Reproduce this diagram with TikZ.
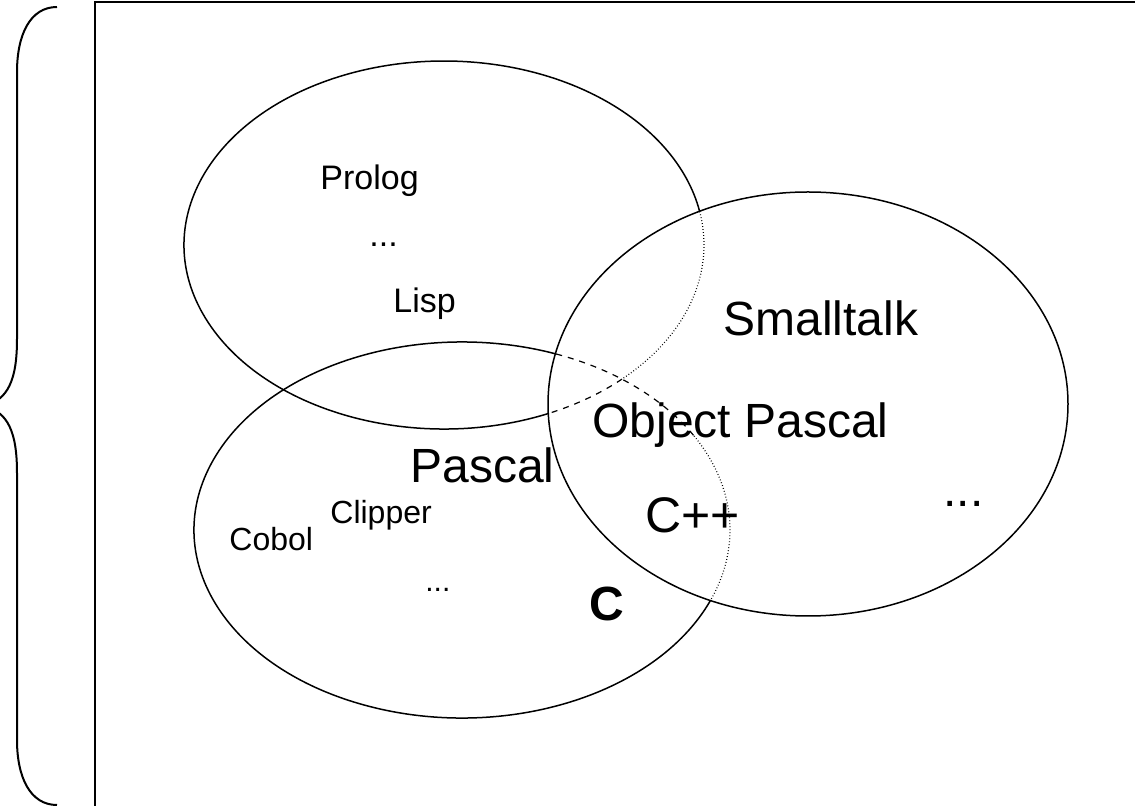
\documentclass[tikz,border=0pt]{standalone}
\usepackage{fontspec}
\setmainfont{Liberation Sans}
\begin{document}
\begin{tikzpicture}[x=0.5pt, y=-0.5pt,
        venn/.style={line width=0.75pt},
        hiddendash/.style={line width=0.6pt, dash pattern=on 3pt off 3pt},
        hiddendot/.style={line width=0.6pt, dash pattern=on 0.4pt off 1.1pt},
        lang/.style={anchor=base west, inner sep=0pt, font=\fontsize{#1}{#1}\selectfont}]
            \useasboundingbox (0,0) rectangle (1135,806);
            \clip (0,0) rectangle (1135,806);
            \coordinate (logic) at (444,245);
            \coordinate (proc)  at (462,530);
            \coordinate (oop)   at (808,404);
            \draw[line width=1pt] (95,2) rectangle (1200,900);
            \draw[line width=1pt] (57,7) .. controls (30,7) and (17,35) .. (17,72) -- (17,339)
                .. controls (17,380) and (8,400) .. (-16,406) .. controls (8,412) and (17,432) .. (17,473)
                -- (17,740) .. controls (17,777) and (30,805) .. (57,805);
            \draw[venn]       (oop) ellipse [x radius=260, y radius=212];
            \draw[venn]       (logic) ++(66.4:260 and 184)  arc[start angle=66.4,  end angle=349.5, x radius=260, y radius=184];
            \draw[hiddendot]  (logic) ++(-10.5:260 and 184) arc[start angle=-10.5, end angle=46.8,  x radius=260, y radius=184];
            \draw[hiddendash] (logic) ++(46.8:260 and 184)  arc[start angle=46.8,  end angle=66.4,  x radius=260, y radius=184];
            \draw[venn]       (proc) ++(22:268 and 188)     arc[start angle=22,    end angle=290.6, x radius=268, y radius=188];
            \draw[hiddendash] (proc) ++(-69.4:268 and 188)  arc[start angle=-69.4, end angle=-30,   x radius=268, y radius=188];
            \draw[hiddendot]  (proc) ++(-30:268 and 188)    arc[start angle=-30,   end angle=22,    x radius=268, y radius=188];
            \node[lang=17] (prolog)    at (320,190) {Prolog};
            \node[lang=17] (logicdots) at (369,247) {...};
            \node[lang=17] (lisp)      at (393,313) {Lisp};
            \node[lang=24] (smalltalk) at (723,336) {Smalltalk};
            \node[lang=24] (objpascal) at (592,438) {Object Pascal};
            \node[lang=24] (pascal)    at (410,483) {Pascal};
            \node[lang=16] (clipper)   at (330,524) {Clipper};
            \node[lang=16] (cobol)     at (229,551) {Cobol};
            \node[lang=15] (procdots)  at (425,592) {...};
            \node[lang=24] (c)         at (589,621) {\bfseries C};
            \node[lang=25] (cpp)       at (645,533) {C++};
            \node[lang=24] (oopdots)   at (943,507) {...};
        \end{tikzpicture}
\end{document}
